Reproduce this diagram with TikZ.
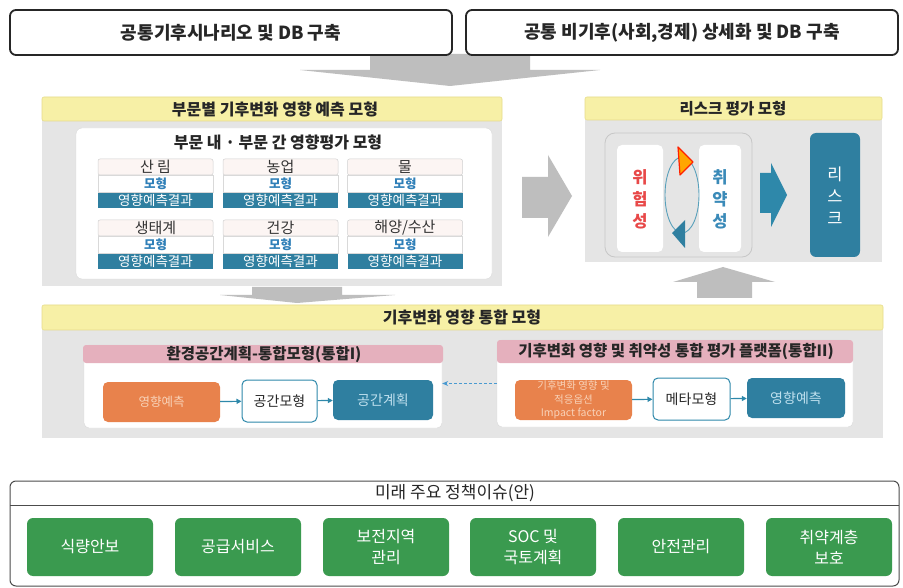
\documentclass[tikz,border=0pt]{standalone}
\usepackage{fontspec}
\setmainfont{Noto Sans CJK KR}
\usetikzlibrary{arrows.meta}
\definecolor{ylw}{HTML}{F7F0A6}
\definecolor{ylwb}{HTML}{E6DC8C}
\definecolor{bggray}{HTML}{E5E5E5}
\definecolor{arrgray}{HTML}{BEBEBE}
\definecolor{tealc}{HTML}{2F7FA0}
\definecolor{tealar}{HTML}{2E88AA}
\definecolor{pinkc}{HTML}{E5B0BD}
\definecolor{orangec}{HTML}{E8824C}
\definecolor{orangetxt}{HTML}{F8D2B8}
\definecolor{tealtxt}{HTML}{BFE0EE}
\definecolor{greenc}{HTML}{3A9A4F}
\definecolor{redtxt}{HTML}{E84848}
\definecolor{bluetxt}{HTML}{3A8AB8}
\definecolor{dashblue}{HTML}{4A9AD0}
\definecolor{mohyung}{HTML}{2F7FB8}
\definecolor{cardname}{HTML}{FCF5F3}
\newcommand\mycard[4]{%
  \node[cname] (n#3) at (#1,#2) {#4};
  \node[cmod]  (m#3) at (#1,#2+17) {모형};
  \node[cbar]  (b#3) at (#1,#2+33.5) {영향예측결과};
}
\begin{document}
\begin{tikzpicture}[x=1pt,y=-1pt,
  topbox/.style={draw=black!85, line width=1.8pt, rounded corners=6pt, fill=white,
    minimum height=45pt, inner sep=0pt, font=\fontsize{18}{20}\selectfont\bfseries, text=black!85},
  ybar/.style={fill=ylw, draw=ylwb, line width=0.6pt, rounded corners=2pt},
  ytitle/.style={font=\fontsize{16}{18}\selectfont\bfseries, text=black!85},
  ptitle/.style={font=\fontsize{15.5}{17}\selectfont\bfseries, text=black!85},
  cname/.style={fill=cardname, draw=black!18, line width=0.5pt, rounded corners=2pt,
    minimum width=115pt, minimum height=16pt, inner sep=0pt, font=\fontsize{15}{15}\selectfont, text=black!80},
  cmod/.style={fill=white, draw=black!15, line width=0.5pt,
    minimum width=115pt, minimum height=17pt, inner sep=0pt, font=\fontsize{12.5}{12.5}\selectfont\bfseries, text=mohyung},
  cbar/.style={fill=tealc, minimum width=115pt, minimum height=15pt, inner sep=0pt,
    font=\fontsize{13.5}{13.5}\selectfont, text=white},
  smallbox/.style={rounded corners=5pt, inner sep=0pt, align=center, font=\fontsize{14}{15}\selectfont},
  tarr/.style={draw=tealar, line width=1.2pt, -{Triangle[length=5pt,width=5pt]}},
  vtext/.style={align=center, font=\fontsize{16.5}{22}\selectfont\bfseries},
  gbox/.style={fill=greenc, rounded corners=6pt, minimum width=126pt, minimum height=58pt,
    inner sep=0pt, align=center, text=white, font=\fontsize{16}{21}\selectfont}
]
\useasboundingbox (0,0) rectangle (903,588);
\fill[white] (0,0) rectangle (903,588);

% ---------- top ----------
\fill[arrgray] (370,54) -- (530,54) -- (530,70) -- (600,70) -- (450,86) -- (300,70) -- (370,70) -- cycle;
\node[topbox, minimum width=442pt] (t1) at (231,32.5) {공통기후시나리오 및 DB 구축};
\node[topbox, minimum width=432pt] (t2) at (682,32.5) {공통 비기후(사회,경제) 상세화 및 DB 구축};

% ---------- left section ----------
\fill[bggray] (42,119) rectangle (502,286);
\draw[ybar] (42,97) rectangle (502,121);
\node[ytitle] (lt) at (275,109) {부문별 기후변화 영향 예측 모형};
\node[draw=black!15, fill=white, rounded corners=6pt, minimum width=416pt, minimum height=151pt] (lin) at (284,203.5) {};
\node[ytitle] (lst) at (278,142) {부문 내 · 부문 간 영향평가 모형};

\mycard{155.5}{167}{a}{산 림}
\mycard{280.5}{167}{b}{농업}
\mycard{405}{167}{c}{물}
\mycard{155.5}{228}{d}{생태계}
\mycard{280.5}{228}{e}{건강}
\mycard{405}{228}{f}{해양/수산}

% gray right arrow
\fill[arrgray] (522,177) -- (548,177) -- (548,155) -- (572,196) -- (548,237) -- (548,218) -- (522,218) -- cycle;

% ---------- right section ----------
\fill[bggray] (585,120) rectangle (882,262);
\draw[ybar] (585,97) rectangle (882,120);
\node[font=\fontsize{15.5}{17}\selectfont\bfseries, text=black!85] (rt) at (733,108.5) {리스크 평가 모형};
\draw[black!22, line width=0.8pt, rounded corners=10pt] (605,133) rectangle (752,257);
\node[fill=white, rounded corners=5pt, minimum width=46pt, minimum height=107pt] (hz) at (640,198.5) {};
\node[vtext, text=redtxt] (hzt) at (640,199) {위\\험\\성};
\node[fill=white, rounded corners=5pt, minimum width=42pt, minimum height=107pt] (vu) at (720,198.5) {};
\node[vtext, text=bluetxt] (vut) at (720,199) {취\\약\\성};
\draw[tealar!80, line width=0.9pt] (682,195) ellipse [x radius=17, y radius=38];
\filldraw[fill=orange!70!yellow, draw=red!75!orange, line width=1.2pt, line join=round] (678,147) -- (693,162) -- (680,175) -- cycle;
\fill[tealc] (685,220) -- (672,233) -- (685,248) -- cycle;
\fill[tealar] (760,173) -- (771,173) -- (771,163) -- (787,195) -- (771,227) -- (771,213) -- (760,213) -- cycle;
\node[fill=tealc, rounded corners=6pt, minimum width=50pt, minimum height=124pt, inner sep=0pt] (rk) at (835,195) {};
\node[align=center, text=white, font=\fontsize{16.5}{22}\selectfont] (rkt) at (835,196) {리\\스\\크};

% up arrow
\fill[arrgray] (697,298) -- (752,298) -- (752,282) -- (775,282) -- (723,267) -- (673,282) -- (697,282) -- cycle;
% small down arrow
\fill[arrgray] (252,287) -- (342,287) -- (342,295) -- (395,295) -- (297,303) -- (220,295) -- (252,295) -- cycle;

% ---------- bottom integration section ----------
\fill[bggray] (42,330) rectangle (883,438);
\draw[ybar] (42,305) rectangle (883,330);
\node[ytitle] (it) at (462,317.5) {기후변화 영향 통합 모형};

\node[draw=black!15, fill=white, rounded corners=5pt, minimum width=358pt, minimum height=83pt, inner sep=0pt] (lp) at (263,386.5) {};
\fill[pinkc, rounded corners=3pt] (83,345) rectangle (443,363);
\node[ptitle] (lpt) at (264,354.5) {환경공간계획-통합모형(통합I)};
\node[smallbox, fill=orangec, text=orangetxt, minimum width=117pt, minimum height=40pt, font=\fontsize{12.5}{14}\selectfont] (o1) at (161.5,402) {영향예측};
\node[smallbox, fill=white, draw=tealar, line width=1pt, text=black!85, minimum width=75pt, minimum height=42pt] (m1) at (279.5,401) {공간모형};
\node[smallbox, fill=tealc, text=tealtxt, minimum width=100pt, minimum height=40pt] (p1) at (383,400) {공간계획};
\draw[tarr] (o1) -- (m1);
\draw[tarr] (m1) -- (p1);

\node[draw=black!15, fill=white, rounded corners=5pt, minimum width=356pt, minimum height=87pt, inner sep=0pt] (rp) at (675,383.5) {};
\fill[pinkc, rounded corners=3pt] (497,340) rectangle (853,363);
\node[ptitle] (rpt) at (676,352) {기후변화 영향 및 취약성 통합 평가 플랫폼(통합II)};
\node[smallbox, fill=orangec, text=orangetxt, minimum width=117pt, minimum height=40pt, font=\fontsize{10.5}{13.5}\selectfont] (o2) at (573.5,400) {기후변화 영향 및\\적응옵션\\Impact factor};
\node[smallbox, fill=white, draw=tealar, line width=1pt, text=black!85, minimum width=77pt, minimum height=42pt] (m2) at (691.5,399) {메타모형};
\node[smallbox, fill=tealc, text=tealtxt, minimum width=98pt, minimum height=40pt] (p2) at (796,398) {영향예측};
\draw[tarr] (o2) -- (m2);
\draw[tarr] (m2) -- (p2);

\draw[draw=dashblue, line width=1.3pt, dash pattern=on 3pt off 2pt, -{Stealth[length=6pt,width=5pt]}] (rp.west) -- (rp.west -| lp.east);

% ---------- bottom policy box ----------
\draw[black!70, line width=1pt, rounded corners=6pt] (10,481) rectangle (899,586);
\draw[black!70, line width=0.8pt] (10,505) -- (899,505);
\node[font=\fontsize{17}{19}\selectfont, text=black!85] (pt) at (455,493) {미래 주요 정책이슈(안)};
\node[gbox] (g1) at (90,547) {식량안보};
\node[gbox] (g2) at (238,547) {공급서비스};
\node[gbox] (g3) at (386,547) {보전지역\\관리};
\node[gbox] (g4) at (533,547) {SOC 및\\국토계획};
\node[gbox] (g5) at (681,547) {안전관리};
\node[gbox] (g6) at (829,547) {취약계층\\보호};
\end{tikzpicture}
\end{document}
